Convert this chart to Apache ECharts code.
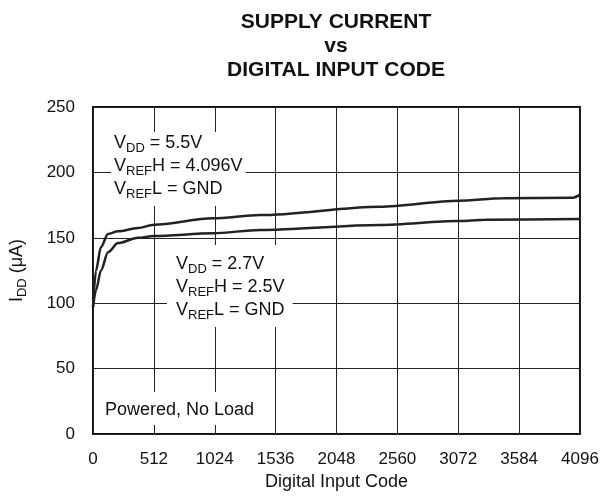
<!DOCTYPE html>
<html lang="en">
<head>
    <meta charset="UTF-8">
    <title>Supply Current vs Digital Input Code</title>
    <script src="https://cdn.jsdelivr.net/npm/echarts@6/dist/echarts.min.js"></script>
    <style>
        body { margin: 0; background: #fff; }
        #chart { width: 611px; height: 496px; }
    </style>
</head>
<body>
<div id="chart"></div>
<script>
    // x ticks
    var xTicks = [0, 512, 1024, 1536, 2048, 2560, 3072, 3584, 4096];
    var yTicks = [0, 50, 100, 150, 200, 250];

    // VDD = 5.5V curve
    var code55 = [0, 25, 67, 126, 210, 378, 512, 1009, 1404, 2414, 3072, 3448, 4037, 4096];
    var idd55 = [97, 125, 143, 153, 155, 157.5, 160, 165, 167.4, 173.8, 178.4, 180.2, 180.7, 183];

    // VDD = 2.7V curve
    var code27 = [0, 25, 67, 126, 210, 378, 512, 1009, 1404, 2414, 3072, 3300, 4096];
    var idd27 = [97, 110, 125, 139, 146, 150, 151.4, 153.5, 156, 159.8, 162.8, 163.8, 164.4];

    function pairs(xs, ys) {
        var out = [];
        for (var i = 0; i < xs.length; i++) out.push([xs[i], ys[i]]);
        return out;
    }

    var font = 'Liberation Sans, Arial, sans-serif';
    var rich = {
        n: { fontSize: 18, fontFamily: font, color: '#111', lineHeight: 23 },
        s: { fontSize: 13, fontFamily: font, color: '#111', lineHeight: 13, verticalAlign: 'bottom' }
    };

    function note(text, left, top, pad) {
        return {
            text: text,
            left: left,
            top: top,
            padding: pad,
            backgroundColor: '#fff',
            itemGap: 0,
            textStyle: { rich: rich, fontSize: 18, fontFamily: font, fontWeight: 'normal', lineHeight: 23 }
        };
    }

    var chart = echarts.init(document.getElementById('chart'));
    var option = {
        animation: false,
        title: [
            {
                text: 'SUPPLY CURRENT\nvs\nDIGITAL INPUT CODE',
                left: 336,
                top: 10,
                padding: 0,
                textAlign: 'center',
                textStyle: { fontSize: 21, fontWeight: 'bold', fontFamily: font, color: '#111', lineHeight: 24 }
            },
            note('{n|V}{s|DD}{n| = 5.5V}\n{n|V}{s|REF}{n|H = 4.096V}\n{n|V}{s|REF}{n|L = GND}', 111, 132, [0, 3, 5, 3]),
            note('{n|V}{s|DD}{n| = 2.7V}\n{n|V}{s|REF}{n|H = 2.5V}\n{n|V}{s|REF}{n|L = GND}', 167, 245, [8, 8, 5, 9]),
            {
                text: 'Powered, No Load',
                left: 100,
                top: 392,
                padding: [9, 5, 6, 5],
                backgroundColor: '#fff',
                textStyle: { fontSize: 18, fontFamily: font, fontWeight: 'normal', color: '#111', lineHeight: 18 }
            }
        ],
        grid: {
            left: 93, right: 31, top: 107, bottom: 61,
            show: true, borderColor: '#111', borderWidth: 2
        },
        xAxis: {
            type: 'value',
            min: xTicks[0],
            max: xTicks[xTicks.length - 1],
            interval: xTicks[1] - xTicks[0],
            name: 'Digital Input Code',
            nameLocation: 'middle',
            nameGap: 36,
            nameTextStyle: { fontSize: 18, fontFamily: font, color: '#111' },
            axisLine: { show: false },
            axisTick: { show: false },
            axisLabel: {
                fontSize: 17, fontFamily: font, color: '#111', margin: 17,
                formatter: function (v) { return String(v); }
            },
            splitLine: { show: true, lineStyle: { color: '#222', width: 1 } }
        },
        yAxis: {
            type: 'value',
            min: yTicks[0],
            max: yTicks[yTicks.length - 1],
            interval: yTicks[1] - yTicks[0],
            name: '{n|I}{s|DD}{n| (μA)}',
            nameLocation: 'middle',
            nameRotate: 90,
            nameGap: 64,
            nameTextStyle: { rich: rich },
            axisLine: { show: false },
            axisTick: { show: false },
            axisLabel: {
                fontSize: 17, fontFamily: font, color: '#111', margin: 18,
                formatter: function (v) { return String(v); }
            },
            splitLine: { show: true, lineStyle: { color: '#222', width: 1 } }
        },
        series: [
            {
                name: 'VDD 5.5V',
                type: 'line',
                data: pairs(code55, idd55),
                smooth: 0.3,
                smoothMonotone: 'x',
                showSymbol: false,
                lineStyle: { color: '#222', width: 2.5 }
            },
            {
                name: 'VDD 2.7V',
                type: 'line',
                data: pairs(code27, idd27),
                smooth: 0.3,
                smoothMonotone: 'x',
                showSymbol: false,
                lineStyle: { color: '#222', width: 2.5 }
            }
        ]
    };
    chart.setOption(option);
</script>
</body>
</html>
